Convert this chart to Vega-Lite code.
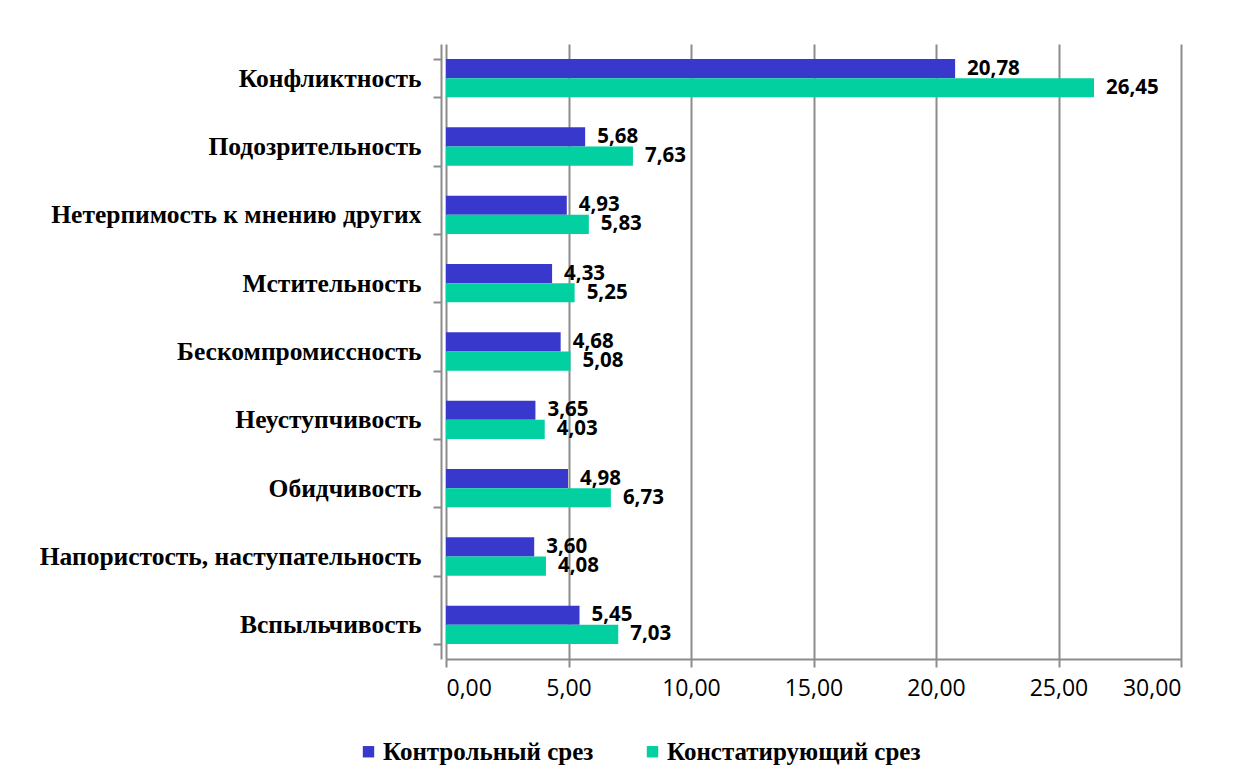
{
  "$schema": "https://vega.github.io/schema/vega-lite/v6.json",
  "width": 735,
  "height": 615,
  "autosize": {"type": "none"},
  "padding": {"left": 446, "top": 44, "right": 60, "bottom": 124},
  "background": "white",
  "config": {
    "view": {"stroke": null},
    "locale": {
      "number": {"decimal": ",", "thousands": " ", "grouping": [3], "currency": ["", ""]}
    }
  },
  "data": {
    "values": [
      {"trait": "Конфликтность", "series": "Контрольный срез", "value": 20.78},
      {"trait": "Конфликтность", "series": "Констатирующий срез", "value": 26.45},
      {"trait": "Подозрительность", "series": "Контрольный срез", "value": 5.68},
      {"trait": "Подозрительность", "series": "Констатирующий срез", "value": 7.63},
      {"trait": "Нетерпимость к мнению других", "series": "Контрольный срез", "value": 4.93},
      {"trait": "Нетерпимость к мнению других", "series": "Констатирующий срез", "value": 5.83},
      {"trait": "Мстительность", "series": "Контрольный срез", "value": 4.33},
      {"trait": "Мстительность", "series": "Констатирующий срез", "value": 5.25},
      {"trait": "Бескомпромиссность", "series": "Контрольный срез", "value": 4.68},
      {"trait": "Бескомпромиссность", "series": "Констатирующий срез", "value": 5.08},
      {"trait": "Неуступчивость", "series": "Контрольный срез", "value": 3.65},
      {"trait": "Неуступчивость", "series": "Констатирующий срез", "value": 4.03},
      {"trait": "Обидчивость", "series": "Контрольный срез", "value": 4.98},
      {"trait": "Обидчивость", "series": "Констатирующий срез", "value": 6.73},
      {"trait": "Напористость, наступательность", "series": "Контрольный срез", "value": 3.60},
      {"trait": "Напористость, наступательность", "series": "Констатирующий срез", "value": 4.08},
      {"trait": "Вспыльчивость", "series": "Контрольный срез", "value": 5.45},
      {"trait": "Вспыльчивость", "series": "Констатирующий срез", "value": 7.03}
    ]
  },
  "encoding": {
    "y": {
      "field": "trait",
      "type": "nominal",
      "sort": null,
      "scale": {"paddingInner": 0.44, "paddingOuter": 0.22},
      "axis": {
        "title": null,
        "tickBand": "extent",
        "grid": false,
        "offset": 5,
        "domainColor": "#8c8c8c",
        "domainWidth": 2,
        "tickColor": "#8c8c8c",
        "tickWidth": 2,
        "tickSize": 8,
        "labelPadding": 12,
        "labelFont": "Liberation Serif",
        "labelFontWeight": "bold",
        "labelFontSize": 25.5,
        "labelColor": "#000000",
        "labelLimit": 500
      }
    },
    "yOffset": {
      "field": "series",
      "type": "nominal",
      "sort": ["Контрольный срез", "Констатирующий срез"]
    }
  },
  "layer": [
    {
      "mark": {"type": "bar"},
      "encoding": {
        "x": {
          "field": "value",
          "type": "quantitative",
          "scale": {"domain": [0, 30], "nice": false},
          "axis": {
            "title": null,
            "values": [0, 5, 10, 15, 20, 25, 30],
            "format": ".2f",
            "grid": true,
            "gridColor": "#8c8c8c",
            "gridWidth": 2,
            "domainColor": "#8c8c8c",
            "domainWidth": 2,
            "tickColor": "#8c8c8c",
            "tickWidth": 2,
            "tickSize": 8,
            "labelPadding": 10,
            "labelFont": "Open Sans",
            "labelFontSize": 23,
            "labelColor": "#000000"
          }
        },
        "color": {
          "field": "series",
          "type": "nominal",
          "sort": ["Контрольный срез", "Констатирующий срез"],
          "scale": {"range": ["#3838CC", "#03D0A0"]},
          "legend": {
            "title": null,
            "orient": "none",
            "direction": "horizontal",
            "legendX": -90,
            "legendY": 695,
            "symbolType": "square",
            "symbolSize": 130,
            "symbolStrokeWidth": 0,
            "symbolOpacity": 1,
            "labelFont": "Liberation Serif",
            "labelFontWeight": "bold",
            "labelFontSize": 25,
            "labelColor": "#000000",
            "labelOffset": 2,
            "columnPadding": 46,
            "labelLimit": 400
          }
        }
      }
    },
    {
      "mark": {
        "type": "text",
        "align": "left",
        "baseline": "middle",
        "dx": 12,
        "font": "Open Sans",
        "fontWeight": "bold",
        "fontSize": 20.5,
        "color": "#000000"
      },
      "encoding": {
        "x": {"field": "value", "type": "quantitative"},
        "text": {"field": "value", "type": "quantitative", "format": ".2f"}
      }
    }
  ]
}
